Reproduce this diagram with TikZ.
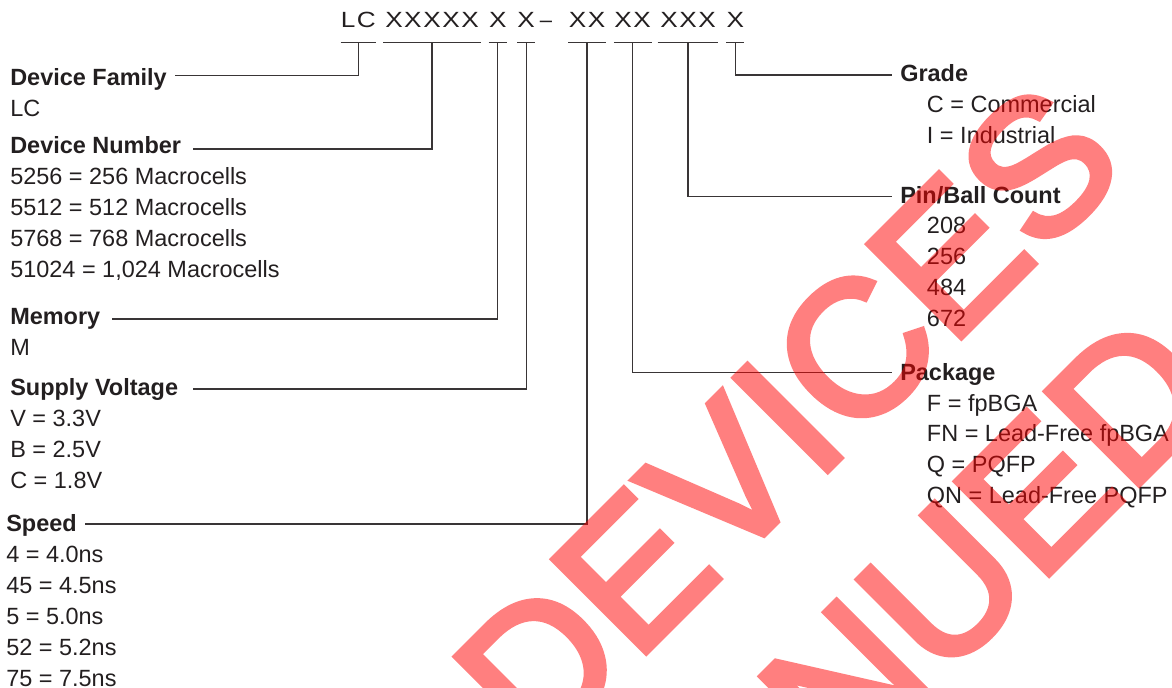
\documentclass[tikz,border=0pt]{standalone}
\usepackage{fontspec}
\setmainfont{Liberation Sans}
\newfontfamily\codefont{Liberation Sans}[FakeStretch=1.19, LetterSpace=7]
\newfontfamily\wmfont{Liberation Sans}[FakeBold=3.3]
\definecolor{ink}{RGB}{35,31,32}
\begin{document}
\begin{tikzpicture}[x=0.75pt,y=-0.75pt,
  lab/.style={anchor=base west, inner sep=0pt, text=ink, font=\fontsize{17.6pt}{21pt}\selectfont\bfseries},
  item/.style={anchor=base west, inner sep=0pt, text=ink, font=\fontsize{17.6pt}{21pt}\selectfont},
  code/.style={anchor=base, inner sep=0pt, text=ink, font=\codefont\fontsize{16.5pt}{20pt}\selectfont},
  conn/.style={draw=ink!90, line width=0.9pt},
  wm/.style={anchor=base west, inner sep=0pt, rotate=45, text=red, font=\wmfont\fontsize{143.2pt}{170pt}\selectfont}]
\useasboundingbox (0,0) rectangle (1172,688);

% ---- code line ----
\node[code, minimum width=25pt]   (g1) at (358.3,27.3) {LC};
\node[code, minimum width=72.5pt] (g2) at (432,27.3) {XXXXX};
\node[code, minimum width=13.3pt] (g3) at (497.8,27.3) {X};
\node[code, minimum width=13.3pt] (g4) at (526.2,27.3) {X};
\node[anchor=base, inner sep=0pt, text=ink, font=\fontsize{16.5pt}{20pt}\selectfont] (dash) at (546,27.3) {–};
\node[code, minimum width=28pt]   (g5) at (587,27.3) {XX};
\node[code, minimum width=28pt]   (g6) at (632.7,27.3) {XX};
\node[code, minimum width=45pt]   (g7) at (688,27.3) {XXX};
\node[code, minimum width=13.3pt] (g8) at (735.3,27.3) {X};
\foreach \g in {g1,g2,g3,g4,g5,g6,g7,g8}
  \draw[conn] ([yshift=-11.25pt]\g.base west) -- ([yshift=-11.25pt]\g.base east);

% ---- left labels ----
\node[lab]  (fam)  at (10,85.3)  {Device Family};
\node[item] (fam1) at (10,116.3) {LC};
\node[lab]  (num)  at (10,153.3) {Device Number};
\node[item] (num1) at (10,184.3) {5256 = 256 Macrocells};
\node[item] (num2) at (10,215.3) {5512 = 512 Macrocells};
\node[item] (num3) at (10,246.3) {5768 = 768 Macrocells};
\node[item] (num4) at (10,277.3) {51024 = 1,024 Macrocells};
\node[lab]  (mem)  at (10,324.5) {Memory};
\node[item] (mem1) at (10,355.3) {M};
\node[lab]  (sup)  at (10,395.3) {Supply Voltage};
\node[item] (sup1) at (10,426.3) {V = 3.3V};
\node[item] (sup2) at (10,457.3) {B = 2.5V};
\node[item] (sup3) at (10,488.3) {C = 1.8V};
\node[lab]  (spd)  at (6,531.3)  {Speed};
\node[item] (spd1) at (6,562.3)  {4 = 4.0ns};
\node[item] (spd2) at (6,593.3)  {45 = 4.5ns};
\node[item] (spd3) at (6,624.3)  {5 = 5.0ns};
\node[item] (spd4) at (6,655.3)  {52 = 5.2ns};
\node[item] (spd5) at (6,686.3)  {75 = 7.5ns};

% ---- right labels ----
\node[lab]  (grd)  at (900,81.7)    {Grade};
\node[item] (grd1) at (926.7,112.3) {C = Commercial};
\node[item] (grd2) at (926.7,143.3) {I = Industrial};
\node[lab]  (pin)  at (900,203.3)   {Pin/Ball Count};
\node[item] (pin1) at (926.7,234)   {208};
\node[item] (pin2) at (926.7,265)   {256};
\node[item] (pin3) at (926.7,296)   {484};
\node[item] (pin4) at (926.7,326.7) {672};
\node[lab]  (pkg)  at (900,380)     {Package};
\node[item] (pkg1) at (926.7,411)   {F = fpBGA};
\node[item] (pkg2) at (926.7,441.7) {FN = Lead-Free fpBGA};
\node[item] (pkg3) at (926.7,472.7) {Q = PQFP};
\node[item] (pkg4) at (926.7,503.3) {QN = Lead-Free PQFP};

% ---- connector ends ----
\coordinate (e1) at (175,75.7);
\coordinate (e2) at (193,149);
\coordinate (e3) at (111.7,319);
\coordinate (e4) at (192.7,389);
\coordinate (e5) at (85,524);
\coordinate (e6) at (892,372.3);
\coordinate (e7) at (892,196.7);
\coordinate (e8) at (892,75);

\draw[conn] ([yshift=-11.25pt]g1.base) |- (e1);
\draw[conn] ([yshift=-11.25pt]g2.base) |- (e2);
\draw[conn] ([yshift=-11.25pt]g3.base) |- (e3);
\draw[conn] ([yshift=-11.25pt]g4.base) |- (e4);
\draw[conn] ([yshift=-11.25pt]g5.base) |- (e5);
\draw[conn] ([yshift=-11.25pt]g6.base) |- (e6);
\draw[conn] ([yshift=-11.25pt]g7.base) |- (e7);
\draw[conn] ([yshift=-11.25pt]g8.base) |- (e8);

% ---- watermark: 50% red as one group ----
\begin{scope}[transparency group, opacity=0.5]
\clip (0,0) rectangle (1172,688);
\node[wm] (wm1) at (537.5,760.8) {DEVICES};
\node[wm] (wm2) at (197.8,1425.6) {DISCONTINUED};
\end{scope}
\end{tikzpicture}
\end{document}
